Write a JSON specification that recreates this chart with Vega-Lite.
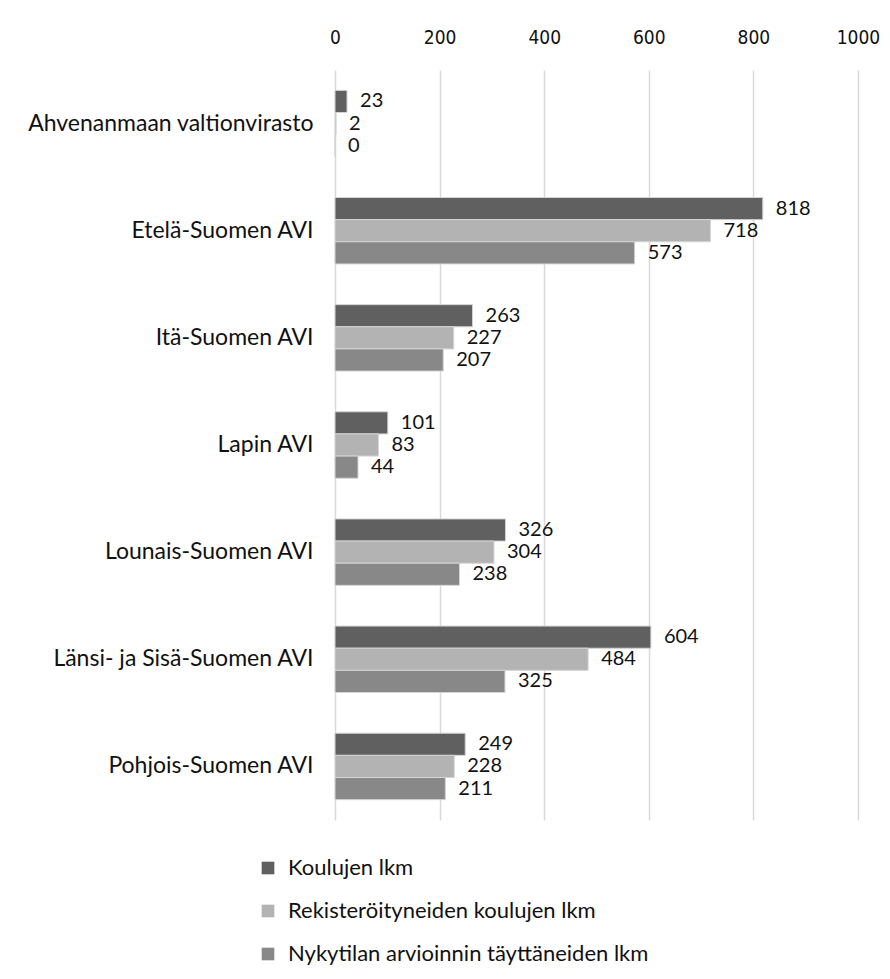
{
  "$schema": "https://vega.github.io/schema/vega-lite/v6.json",
  "autosize": "none",
  "width": 523,
  "height": 750,
  "padding": {"left": 335, "top": 70, "right": 32, "bottom": 159},
  "background": "white",
  "config": {
    "font": "Lato",
    "view": {"stroke": null},
    "axis": {"labelFont": "Lato", "labelColor": "#111111"},
    "legend": {"labelFont": "Lato"}
  },
  "data": {
    "values": [
      {"alue": "Ahvenanmaan valtionvirasto", "sarja": "Koulujen lkm", "arvo": 23},
      {"alue": "Ahvenanmaan valtionvirasto", "sarja": "Rekisteröityneiden koulujen lkm", "arvo": 2},
      {"alue": "Ahvenanmaan valtionvirasto", "sarja": "Nykytilan arvioinnin täyttäneiden lkm", "arvo": 0},
      {"alue": "Etelä-Suomen AVI", "sarja": "Koulujen lkm", "arvo": 818},
      {"alue": "Etelä-Suomen AVI", "sarja": "Rekisteröityneiden koulujen lkm", "arvo": 718},
      {"alue": "Etelä-Suomen AVI", "sarja": "Nykytilan arvioinnin täyttäneiden lkm", "arvo": 573},
      {"alue": "Itä-Suomen AVI", "sarja": "Koulujen lkm", "arvo": 263},
      {"alue": "Itä-Suomen AVI", "sarja": "Rekisteröityneiden koulujen lkm", "arvo": 227},
      {"alue": "Itä-Suomen AVI", "sarja": "Nykytilan arvioinnin täyttäneiden lkm", "arvo": 207},
      {"alue": "Lapin AVI", "sarja": "Koulujen lkm", "arvo": 101},
      {"alue": "Lapin AVI", "sarja": "Rekisteröityneiden koulujen lkm", "arvo": 83},
      {"alue": "Lapin AVI", "sarja": "Nykytilan arvioinnin täyttäneiden lkm", "arvo": 44},
      {"alue": "Lounais-Suomen AVI", "sarja": "Koulujen lkm", "arvo": 326},
      {"alue": "Lounais-Suomen AVI", "sarja": "Rekisteröityneiden koulujen lkm", "arvo": 304},
      {"alue": "Lounais-Suomen AVI", "sarja": "Nykytilan arvioinnin täyttäneiden lkm", "arvo": 238},
      {"alue": "Länsi- ja Sisä-Suomen AVI", "sarja": "Koulujen lkm", "arvo": 604},
      {"alue": "Länsi- ja Sisä-Suomen AVI", "sarja": "Rekisteröityneiden koulujen lkm", "arvo": 484},
      {"alue": "Länsi- ja Sisä-Suomen AVI", "sarja": "Nykytilan arvioinnin täyttäneiden lkm", "arvo": 325},
      {"alue": "Pohjois-Suomen AVI", "sarja": "Koulujen lkm", "arvo": 249},
      {"alue": "Pohjois-Suomen AVI", "sarja": "Rekisteröityneiden koulujen lkm", "arvo": 228},
      {"alue": "Pohjois-Suomen AVI", "sarja": "Nykytilan arvioinnin täyttäneiden lkm", "arvo": 211}
    ]
  },
  "encoding": {
    "y": {
      "field": "alue",
      "type": "nominal",
      "sort": null,
      "title": null,
      "scale": {"paddingInner": 0.38, "paddingOuter": 0.19},
      "axis": {"domain": false, "ticks": false, "labelFontSize": 23, "labelPadding": 22, "labelLimit": 400}
    },
    "yOffset": {
      "field": "sarja",
      "type": "nominal",
      "sort": ["Koulujen lkm", "Rekisteröityneiden koulujen lkm", "Nykytilan arvioinnin täyttäneiden lkm"],
      "scale": {"paddingInner": 0, "paddingOuter": 0}
    },
    "x": {
      "field": "arvo",
      "type": "quantitative",
      "title": null,
      "scale": {"domain": [0, 1000], "nice": false},
      "axis": {
        "orient": "top",
        "values": [0, 200, 400, 600, 800, 1000],
        "format": "d",
        "domain": false,
        "ticks": false,
        "labelFont": "DejaVu Sans Condensed, Lato",
        "labelFontSize": 19,
        "labelPadding": 23,
        "grid": true,
        "gridColor": "#d9d9d9",
        "gridWidth": 1.5,
        "labelFlush": false
      }
    }
  },
  "layer": [
    {
      "mark": {"type": "bar", "stroke": "#d4d4d4", "strokeWidth": 1},
      "encoding": {
        "color": {
          "field": "sarja",
          "type": "nominal",
          "sort": ["Koulujen lkm", "Rekisteröityneiden koulujen lkm", "Nykytilan arvioinnin täyttäneiden lkm"],
          "scale": {
            "domain": ["Koulujen lkm", "Rekisteröityneiden koulujen lkm", "Nykytilan arvioinnin täyttäneiden lkm"],
            "range": ["#606060", "#b3b3b3", "#888888"]
          },
          "legend": {
            "title": null,
            "orient": "none",
            "legendX": -78,
            "legendY": 787,
            "direction": "vertical",
            "symbolType": "square",
            "symbolSize": 160,
            "symbolStrokeWidth": 0,
            "labelFontSize": 22,
            "labelColor": "#111111",
            "rowPadding": 21,
            "labelOffset": 9,
            "labelLimit": 500
          }
        }
      }
    },
    {
      "mark": {"type": "text", "align": "left", "baseline": "middle", "dx": 13, "fontSize": 20, "color": "#111111"},
      "encoding": {"text": {"field": "arvo", "type": "quantitative"}}
    }
  ]
}
